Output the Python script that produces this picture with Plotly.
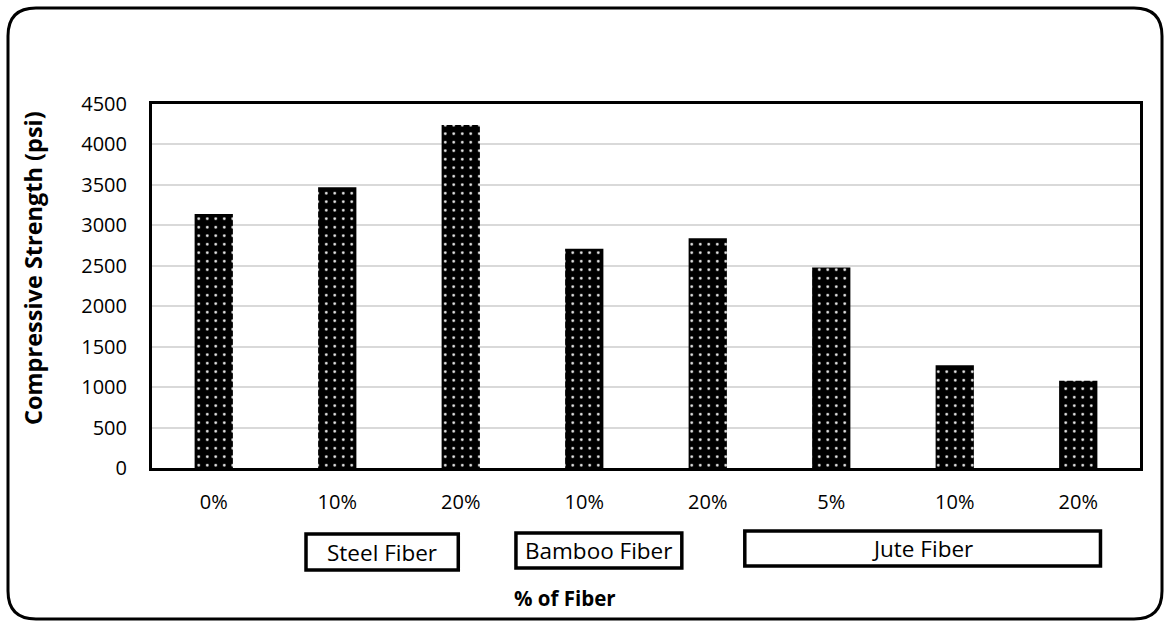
import plotly.graph_objects as go

# ---- data ----
tick_labels = ["0%", "10%", "20%", "10%", "20%", "5%", "10%", "20%"]
strength_psi = [3140, 3470, 4240, 2710, 2840, 2480, 1270, 1080]
group_names = ["Steel Fiber", "Bamboo Fiber", "Jute Fiber"]
y_ticks = [0, 500, 1000, 1500, 2000, 2500, 3000, 3500, 4000, 4500]

W, H = 1167, 623
ML, MR, MT, MB = 152, 27, 104, 155
PW, PH = W - ML - MR, H - MT - MB

def px(x):
    return (x - ML) / PW

def py(y):
    return (H - MB - y) / PH

xpos = list(range(len(tick_labels)))

fig = go.Figure()
fig.add_trace(go.Bar(
    x=xpos, y=strength_psi, width=0.31,
    marker=dict(color="black", line=dict(width=0),
                pattern=dict(shape=".", bgcolor="black", fgcolor="#f0f0f0",
                             size=8.5, solidity=0.08, fillmode="replace")),
    showlegend=False,
))

font = "Open Sans"
fig.update_layout(
    width=W, height=H,
    margin=dict(l=ML, r=MR, t=MT, b=MB),
    paper_bgcolor="white", plot_bgcolor="white",
    font=dict(family=font, color="black", size=20),
    xaxis=dict(tickmode="array", tickvals=xpos, ticktext=tick_labels,
               range=[-0.5, len(tick_labels) - 0.5],
               showline=True, linecolor="black", linewidth=3, mirror=True,
               showgrid=False, ticks="", ticklabelstandoff=14,
               tickfont=dict(size=20, family=font)),
    yaxis=dict(range=[0, 4500], tickvals=y_ticks,
               showline=True, linecolor="black", linewidth=3, mirror=True,
               showgrid=True, gridcolor="#d9d9d9", gridwidth=1.5,
               ticks="", ticklabelstandoff=18, zeroline=False,
               tickfont=dict(size=20, family=font)),
)

# axis titles
fig.add_annotation(text="<b>Compressive Strength (psi)</b>", textangle=-90,
                   xref="paper", yref="paper", x=px(33), y=py(268),
                   xanchor="center", yanchor="middle",
                   showarrow=False, font=dict(size=23.5, family=font))
fig.add_annotation(text="<b>% of Fiber</b>", xref="paper", yref="paper",
                   x=px(565), y=py(598), xanchor="center", yanchor="middle",
                   showarrow=False, font=dict(size=20.5, family=font))

# group boxes (x in category index units)
boxes = [(0.747, 1.98, 534, 570), (2.447, 3.79, 533, 568), (4.30, 7.18, 531, 566)]
for name, (x0, x1, t, b) in zip(group_names, boxes):
    fig.add_shape(type="rect", xref="x", yref="paper", x0=x0, x1=x1,
                  y0=py(b), y1=py(t), line=dict(color="black", width=3.5),
                  fillcolor="white")
    fig.add_annotation(text=name, xref="x", yref="paper", x=(x0 + x1) / 2,
                       y=py((t + b) / 2), xanchor="center", yanchor="middle",
                       showarrow=False, font=dict(size=22.5, family=font))

# outer rounded frame
L, R, T, B, r = 8, 1162, 8, 619, 28
path = (f"M {px(L + r)} {py(T)} L {px(R - r)} {py(T)} "
        f"Q {px(R)} {py(T)} {px(R)} {py(T + r)} "
        f"L {px(R)} {py(B - r)} Q {px(R)} {py(B)} {px(R - r)} {py(B)} "
        f"L {px(L + r)} {py(B)} Q {px(L)} {py(B)} {px(L)} {py(B - r)} "
        f"L {px(L)} {py(T + r)} Q {px(L)} {py(T)} {px(L + r)} {py(T)} Z")
fig.add_shape(type="path", xref="paper", yref="paper", path=path,
              line=dict(color="black", width=3), layer="below")

fig.write_html("out.html", config={"displayModeBar": False},
               post_script="document.body.style.margin='0px';document.body.style.overflow='hidden';")
